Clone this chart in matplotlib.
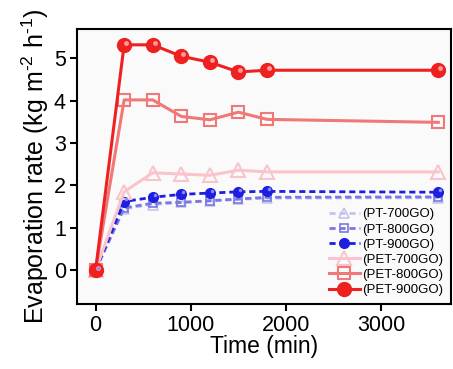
import matplotlib
matplotlib.use("Agg")
import matplotlib.pyplot as plt
import matplotlib.transforms as mtransforms

plt.rcParams['font.family'] = ['Liberation Sans', 'DejaVu Sans']
plt.rcParams['mathtext.fontset'] = 'custom'
plt.rcParams['mathtext.rm'] = 'Liberation Sans'

# data
time_min = [0, 300, 600, 900, 1200, 1500, 1800, 3600]
pt_700 = [0, 1.45, 1.55, 1.6, 1.63, 1.67, 1.70, 1.71]
pt_800 = [0, 1.47, 1.58, 1.60, 1.64, 1.68, 1.72, 1.73]
pt_900 = [0, 1.62, 1.72, 1.79, 1.82, 1.85, 1.86, 1.84]
pet_700 = [0, 1.85, 2.30, 2.27, 2.24, 2.36, 2.32, 2.32]
pet_800 = [0, 4.02, 4.02, 3.63, 3.55, 3.73, 3.56, 3.49]
pet_900 = [0, 5.32, 5.32, 5.05, 4.91, 4.68, 4.72, 4.72]

labels = ['(PT-700GO)', '(PT-800GO)', '(PT-900GO)',
          '(PET-700GO)', '(PET-800GO)', '(PET-900GO)']

fig = plt.figure(figsize=(4.53, 3.69), dpi=100)
fig.patch.set_facecolor('white')
ax = fig.add_axes([0.170, 0.176, 0.826, 0.745])
ax.set_facecolor('#fafafa')

dash = (2.2, 1.4)
ax.plot(time_min, pt_700, color='#c4c4f0', lw=2, dashes=dash, marker='^', ms=7,
        mfc='none', mec='#c4c4f0', mew=1.2, label=labels[0])
ax.plot(time_min, pt_800, color='#7878e0', lw=2, dashes=dash, marker='s', ms=6,
        mfc='none', mec='#7878e0', mew=1.2, label=labels[1])
ax.plot(time_min, pt_900, color='#1e1ee0', lw=2, dashes=dash, marker='o', ms=7,
        mfc='#1e1ee0', mec='#1e1ee0', label=labels[2])
ax.plot(time_min, pet_700, color='#f9c4cc', lw=2.2, marker='^', ms=10,
        mfc='none', mec='#f9c4cc', mew=1.5, label=labels[3])
ax.plot(time_min, pet_800, color='#f07878', lw=2.2, marker='s', ms=9,
        mfc='none', mec='#f07878', mew=1.5, label=labels[4])
ax.plot(time_min, pet_900, color='#ee2020', lw=2.2, marker='o', ms=10,
        mfc='#ee2020', mec='#ee2020', label=labels[5])

# glossy highlights on the filled markers
shift = mtransforms.ScaledTranslation(1.5 / 72, 1.5 / 72, fig.dpi_scale_trans)
ax.plot(time_min, pet_900, ls='none', marker='o', ms=3.5, mfc='#ff9a9a',
        mec='none', transform=ax.transData + shift)
ax.plot(time_min, pt_900, ls='none', marker='o', ms=2.5, mfc='#8a8aff',
        mec='none', transform=ax.transData + shift)

ax.set_xlim(-195, 3735)
ax.set_ylim(-0.8, 5.69)
ax.set_xticks([0, 1000, 2000, 3000])
ax.set_yticks([0, 1, 2, 3, 4, 5])
ax.tick_params(direction='out', length=5, width=1.5, labelsize=15.5,
               top=False, right=False, pad=3)
for s in ax.spines.values():
    s.set_linewidth(1.5)

ax.set_xlabel('Time (min)', fontsize=16.5, labelpad=-1)
ax.set_ylabel('Evaporation rate (kg m$^{\\text{-2}}$ h$^{\\text{-1}}$)',
              fontsize=18, labelpad=2)

ax.legend(loc='lower right', frameon=False, fontsize=9.5, handlelength=2.4,
          handletextpad=0.15, labelspacing=0.22, borderaxespad=0.2,
          bbox_to_anchor=(1.0, 0.0))

fig.savefig('out.png', dpi=100)
